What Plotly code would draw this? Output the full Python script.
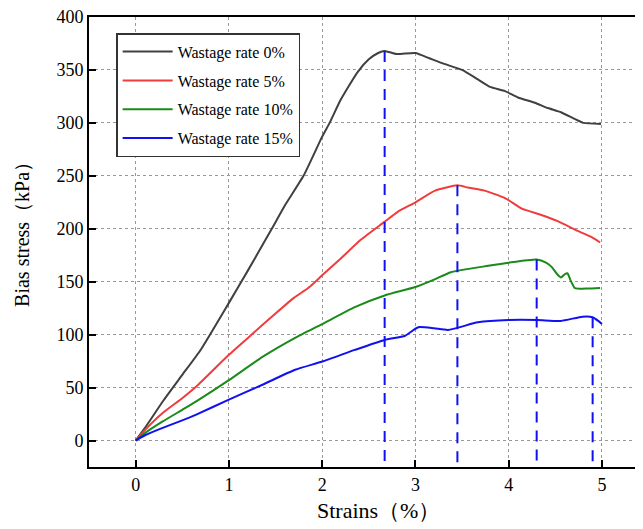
import plotly.graph_objects as go

# ---- data ----
x0 = [0, 0.1, 0.3, 0.5, 0.7, 1.0, 1.2, 1.46, 1.6, 1.8, 2.0, 2.08, 2.2, 2.38, 2.5, 2.6, 2.67, 2.8, 3.0, 3.15, 3.3, 3.5, 3.67, 3.8, 3.96, 4.1, 4.28, 4.42, 4.56, 4.7, 4.8, 4.99]
y0 = [0, 12, 38, 62, 86, 130, 160, 200, 222, 250, 287, 300, 322, 348, 360, 366, 368, 365, 366, 361, 356, 350, 341, 334, 330, 324, 319, 314, 310, 304, 300, 299]

x5 = [0, 0.1, 0.29, 0.5, 0.65, 1.0, 1.23, 1.5, 1.7, 1.85, 2.0, 2.2, 2.42, 2.66, 2.81, 3.0, 3.21, 3.45, 3.56, 3.74, 3.96, 4.14, 4.35, 4.53, 4.74, 4.89, 4.98]
y5 = [0, 10, 26, 40, 51, 81, 99, 120, 135, 144, 156, 172, 190, 206, 216, 225, 236, 241, 239, 236, 229, 219, 213, 207, 198, 192, 187]

x10 = [0, 0.1, 0.29, 0.5, 0.65, 1.0, 1.36, 1.71, 2.0, 2.35, 2.67, 3.0, 3.2, 3.38, 3.78, 4.0, 4.3, 4.4, 4.46, 4.52, 4.56, 4.6, 4.63, 4.66, 4.71, 4.85, 4.98]
y10 = [0, 7, 18, 29, 37, 57, 79, 97, 110, 126, 137, 145, 152, 159, 165, 168, 171, 168, 164, 157, 154, 157, 158, 152, 144, 143.5, 144]

x15 = [0, 0.1, 0.29, 0.5, 0.65, 1.0, 1.36, 1.71, 2.0, 2.35, 2.67, 2.89, 3.03, 3.2, 3.35, 3.67, 4.0, 4.31, 4.56, 4.79, 4.9, 4.96, 5.0]
y15 = [0, 5, 12, 19, 24.5, 38.6, 52.7, 66.8, 74.6, 85.6, 95, 99, 107, 106, 104.4, 111.6, 113.8, 113.8, 113, 117, 116.5, 113, 110]

names = ["Wastage rate 0%", "Wastage rate 5%", "Wastage rate 10%", "Wastage rate 15%"]
colors = ["#404040", "#f03c3c", "#1a8a1a", "#1010f0"]

peak_x = [2.67, 3.45, 4.3, 4.9]
peak_y = [368, 241, 171, 116.5]

x_range = [-0.5, 5.44]
y_range = [-25, 400]
x_ticks = [0, 1, 2, 3, 4, 5]
y_ticks = [0, 50, 100, 150, 200, 250, 300, 350, 400]

x_title = "Strains（%）"
y_title = "Bias stress（kPa）"

fig = go.Figure()
for i, (xs, ys) in enumerate([(x0, y0), (x5, y5), (x10, y10), (x15, y15)]):
    fig.add_trace(go.Scatter(x=xs, y=ys, mode="lines", name=names[i],
                             legendgroup=str(i),
                             line=dict(color=colors[i], width=2, shape="spline", smoothing=0.5)))

for px, py in zip(peak_x, peak_y):
    fig.add_trace(go.Scatter(x=[px, px], y=[py, y_range[0]], mode="lines", showlegend=False,
                             line=dict(color="#1010f0", width=2, dash="11px,8px")))

serif = "Liberation Serif, Times New Roman, serif"
fig.update_layout(
    width=635, height=521,
    margin=dict(l=81, r=0, t=9, b=62),
    paper_bgcolor="white", plot_bgcolor="white",
    font=dict(family=serif, color="black", size=18),
    showlegend=True,
    legend=dict(x=0.049, y=0.964, xanchor="left", yanchor="top",
                bordercolor="#333", borderwidth=1.5, bgcolor="white",
                font=dict(family=serif, size=16, color="black"),
                tracegroupgap=5, itemwidth=50),
    xaxis=dict(range=x_range, tickvals=x_ticks, ticks="inside", ticklen=7, tickwidth=2,
               tickcolor="black", showline=True, linecolor="black", linewidth=2, mirror=True,
               showgrid=True, gridcolor="#999", griddash="dot", gridwidth=1, zeroline=False,
               tickfont=dict(family=serif, size=18), ticklabeloverflow="allow"),
    yaxis=dict(range=y_range, tickvals=y_ticks, ticks="inside", ticklen=7, tickwidth=2,
               tickcolor="black", showline=True, linecolor="black", linewidth=2, mirror=False,
               showgrid=True, gridcolor="#999", griddash="dot", gridwidth=1, zeroline=False,
               tickfont=dict(family=serif, size=18), ticklabeloverflow="allow"),
    annotations=[
        dict(text=x_title, xref="paper", yref="paper", x=0.523, y=-0.097,
             xanchor="center", yanchor="middle", showarrow=False,
             font=dict(family=serif, size=22, color="black")),
        dict(text=y_title, xref="paper", yref="paper", x=-0.121, y=0.529,
             xanchor="center", yanchor="middle", showarrow=False, textangle=-90,
             font=dict(family=serif, size=20, color="black")),
    ],
)

fig.write_html("out.html")
